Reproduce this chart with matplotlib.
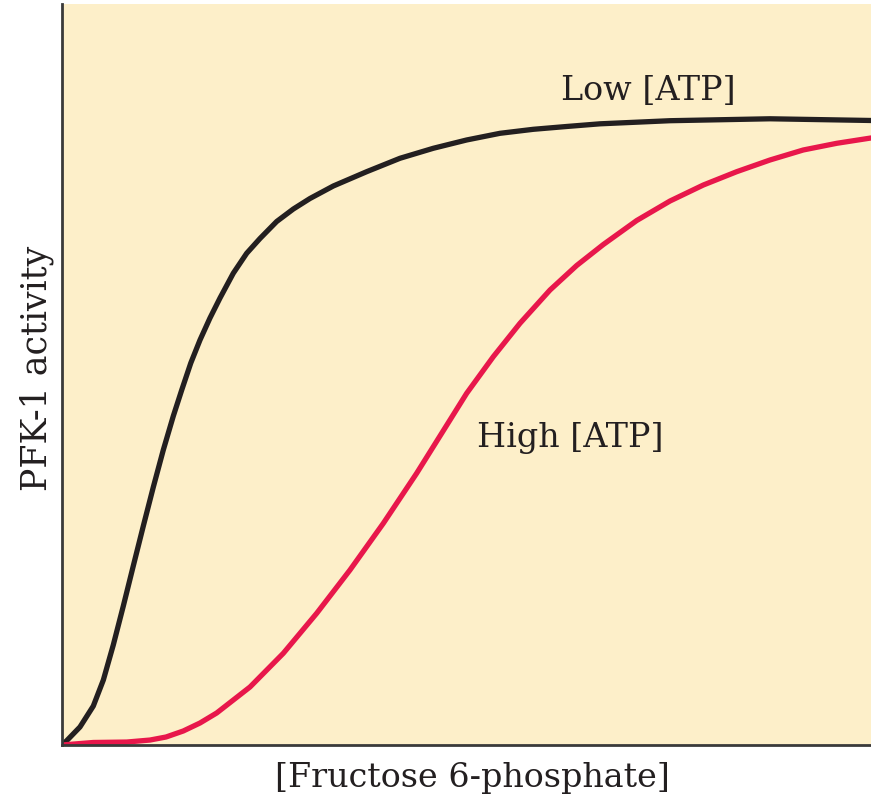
import matplotlib
matplotlib.use("Agg")
import matplotlib.pyplot as plt

# [Fructose 6-phosphate] (arbitrary units) and PFK-1 activity (% of axis height)
low_atp_x = [0.0, 0.058, 0.222, 0.387, 0.511, 0.634, 0.758, 0.881, 1.005, 1.129, 1.252,
             1.376, 1.480, 1.592, 1.706, 1.829, 1.953, 2.117, 2.283, 2.447, 2.654, 2.859,
             3.065, 3.354, 3.766, 4.178, 4.590, 5.002, 5.414, 5.826, 6.238, 6.650, 7.515,
             8.752, 10.0]
low_atp_y = [0.0, 0.58, 2.43, 5.26, 8.77, 13.50, 18.76, 24.16, 29.55, 34.82, 39.81,
             44.40, 47.91, 51.55, 54.66, 57.62, 60.32, 63.66, 66.36, 68.35, 70.65, 72.33,
             73.75, 75.44, 77.37, 79.18, 80.53, 81.65, 82.55, 83.09, 83.47, 83.83, 84.25,
             84.51, 84.28]

high_atp_x = [0.0, 0.387, 0.800, 1.088, 1.286, 1.499, 1.706, 1.912, 2.324, 2.735, 3.148,
              3.560, 3.972, 4.384, 4.796, 5.002, 5.331, 5.661, 6.032, 6.362, 6.691, 7.104,
              7.515, 7.927, 8.340, 8.752, 9.163, 9.576, 10.0]
high_atp_y = [0.0, 0.34, 0.40, 0.67, 1.08, 1.89, 2.97, 4.32, 7.83, 12.37, 17.77,
              23.62, 29.92, 36.67, 43.86, 47.46, 52.40, 56.91, 61.40, 64.71, 67.54, 70.78,
              73.41, 75.57, 77.37, 78.95, 80.30, 81.20, 81.92]

labels = ["Low [ATP]", "High [ATP]"]
x_label = "[Fructose 6-phosphate]"
y_label = "PFK-1 activity"

W, H = 871, 797
fig = plt.figure(figsize=(W / 100, H / 100), dpi=100)
ax = fig.add_axes([62 / W, (H - 745) / H, 809 / W, 741 / H])
ax.set_facecolor("#FDEFC9")

ax.plot(low_atp_x, low_atp_y, color="#231F20", lw=3.8,
        solid_capstyle="round", solid_joinstyle="round")
ax.plot(high_atp_x, high_atp_y, color="#E8174B", lw=3.8,
        solid_capstyle="round", solid_joinstyle="round")

ax.set_xlim(0, 10)
ax.set_ylim(0, 100)
ax.set_xticks([])
ax.set_yticks([])
for s in ["top", "right"]:
    ax.spines[s].set_visible(False)
for s in ["left", "bottom"]:
    ax.spines[s].set_color("#3a3a3a")
    ax.spines[s].set_linewidth(2)

font = dict(family="DejaVu Serif", color="#231F20")
ax.text(7.25, 87.0, labels[0], fontsize=24, ha="center", va="baseline", **font)
ax.text(6.285, 40.2, labels[1], fontsize=24, ha="center", va="baseline", **font)
fig.text(472.5 / W, 1 - 787 / H, x_label, fontsize=24, ha="center", va="baseline", **font)
fig.text(46.7 / W, 1 - 368.5 / H, y_label, fontsize=25, ha="center", va="baseline",
         rotation=90, rotation_mode="anchor", **font)

fig.savefig("out.png", dpi=100)
